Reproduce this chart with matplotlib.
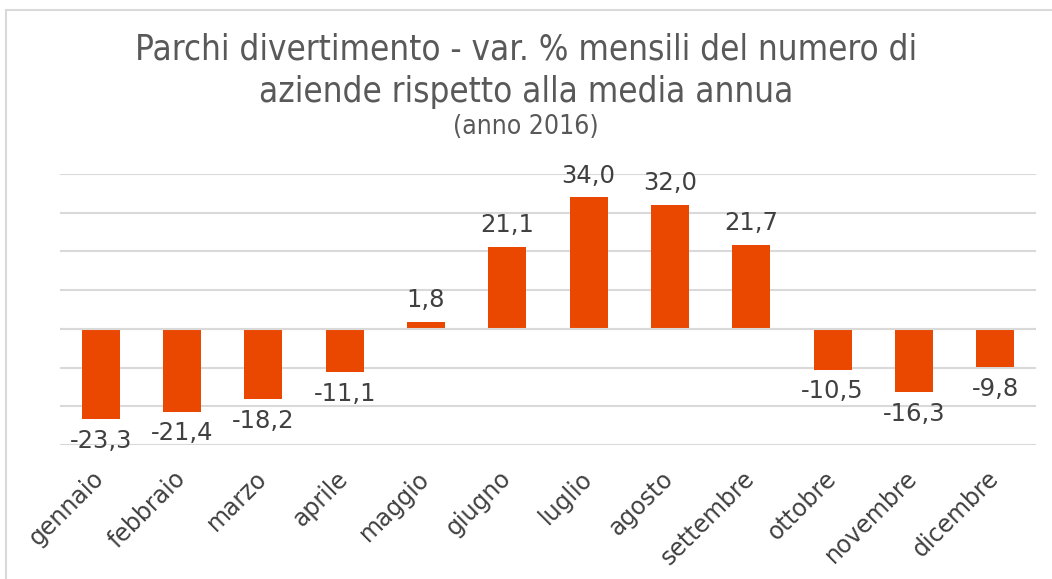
import matplotlib.pyplot as plt
from matplotlib.patches import Rectangle

# dati (var. % mensili)
mesi = ["gennaio", "febbraio", "marzo", "aprile", "maggio", "giugno",
        "luglio", "agosto", "settembre", "ottobre", "novembre", "dicembre"]
valori = [-23.3, -21.4, -18.2, -11.1, 1.8, 21.1, 34.0, 32.0, 21.7, -10.5, -16.3, -9.8]

plt.rcParams['font.family'] = ['DejaVu Sans']

fig = plt.figure(figsize=(10.52, 5.79), dpi=100)
ax = fig.add_axes([60/1052, 1-445/579, (1036-60)/1052, (445-174)/579])

# cornice grigia della figura
fig.patches.append(Rectangle((6/1052, -0.1), 1.2, 1-10/579+0.1, transform=fig.transFigure,
                             fill=False, edgecolor="#d9d9d9", linewidth=1.5))

x = list(range(len(mesi)))
ax.bar(x, valori, width=0.47, color="#ea4800", zorder=2)
ax.axhline(0, color="#d9d9d9", lw=1.5, zorder=3)

for xi, v in zip(x, valori):
    testo = f"{v:.1f}".replace(".", ",")
    if v >= 0:
        ax.annotate(testo, (xi, v), xytext=(0, 7), textcoords="offset points",
                    ha="center", va="bottom", fontsize=17.5, color="#404040")
    else:
        ax.annotate(testo, (xi, v), xytext=(0, -7), textcoords="offset points",
                    ha="center", va="top", fontsize=17.5, color="#404040")

ax.set_xlim(-0.5, len(mesi) - 0.5)
ax.set_ylim(-30, 40)
ax.set_yticks(range(-30, 41, 10))
ax.yaxis.grid(True, color="#d9d9d9", lw=1.5, zorder=0)
ax.set_axisbelow(True)
ax.tick_params(axis="y", left=False, labelleft=False)
ax.tick_params(axis="x", bottom=False, pad=18)
ax.set_xticks(x)
ax.set_xticklabels(mesi, rotation=45, ha="right", va="center", rotation_mode="anchor",
                   fontsize=17, color="#404040")
for s in ax.spines.values():
    s.set_visible(False)

fig.text(0.5, 1-50/579, "Parchi divertimento - var. % mensili del numero di",
         ha="center", va="center", fontsize=25, color="#595959", fontstretch="condensed")
fig.text(0.5, 1-92/579, "aziende rispetto alla media annua",
         ha="center", va="center", fontsize=25, color="#595959", fontstretch="condensed")
fig.text(0.5, 1-127/579, "(anno 2016)",
         ha="center", va="center", fontsize=19, color="#595959", fontstretch="condensed")

fig.savefig("out.png", dpi=100)
